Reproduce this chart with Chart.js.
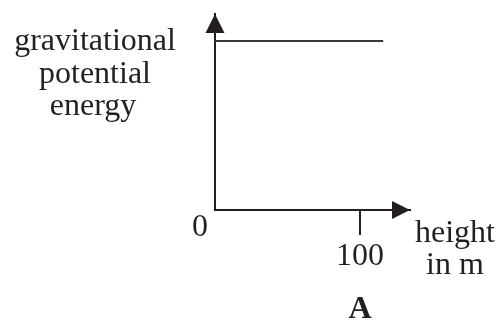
<!DOCTYPE html>
<html>
<head>
<meta charset="utf-8">
<script src="https://cdn.jsdelivr.net/npm/chart.js@4"></script>
<style>
  html, body { margin: 0; padding: 0; background: #fff; }
  canvas { display: block; }
</style>
</head>
<body>
<canvas id="gpeChart" width="503" height="326"></canvas>
<script>
// data
const heights = [0, 116];          // height in m
const energy = [1, 1];             // GPE stays constant
const xTicks = [100];
const xMax = 134.5;                // arrow tip
const yMax = 1.16;

const ink = '#231f20';
const serif = '"Liberation Serif", "DejaVu Serif", serif';

// === arrows and free text ===
const sketchPlugin = {
    id: 'sketch',
    afterDraw(chart) {
        const ctx = chart.ctx;
        const x = chart.scales.x, y = chart.scales.y;
        const x0 = x.getPixelForValue(0), y0 = y.getPixelForValue(0);
        const xEnd = x.getPixelForValue(xMax), yEnd = y.getPixelForValue(yMax);

        ctx.save();
        ctx.fillStyle = ink;
        // y arrow
        ctx.beginPath();
        ctx.moveTo(x0, yEnd);
        ctx.lineTo(x0 - 9.5, yEnd + 19);
        ctx.lineTo(x0 + 9.5, yEnd + 19);
        ctx.closePath();
        ctx.fill();
        // x arrow
        ctx.beginPath();
        ctx.moveTo(xEnd, y0);
        ctx.lineTo(xEnd - 18, y0 - 9);
        ctx.lineTo(xEnd - 18, y0 + 9);
        ctx.closePath();
        ctx.fill();

        ctx.font = '32px ' + serif;
        ctx.textAlign = 'center';
        ctx.textBaseline = 'middle';
        ctx.fillText('0', x0 - 15, y0 + 18);
        // tick labels
        xTicks.forEach(v => ctx.fillText(String(v), x.getPixelForValue(v), y0 + 47));

        ctx.fillText('gravitational', 95, 42);
        ctx.fillText('potential', 95, 75);
        ctx.fillText('energy', 93, 107);

        ctx.fillText('height', 455, 234);
        ctx.fillText('in m', 455, 266);

        ctx.font = 'bold 32px ' + serif;
        ctx.fillText('A', x.getPixelForValue(100), 310);
        ctx.restore();
    }
};

new Chart(document.getElementById('gpeChart'), {
    type: 'line',
    data: {
        datasets: [{
            data: heights.map((h, i) => ({ x: h, y: energy[i] })),
            borderColor: '#3a3a3a',
            borderWidth: 2,
            pointRadius: 0,
            fill: false
        }]
    },
    options: {
        responsive: false,
        animation: false,
        layout: { padding: { left: 215, right: 93, top: 14, bottom: 116 } },
        plugins: { legend: { display: false }, tooltip: { enabled: false } },
        scales: {
            x: {
                type: 'linear',
                min: 0,
                max: xMax,
                afterFit: s => { s.height = 0; },
                afterBuildTicks: s => { s.ticks = xTicks.map(v => ({ value: v })); },
                grid: { drawOnChartArea: false, tickLength: 25, color: ink, lineWidth: 2 },
                border: { display: true, color: ink, width: 2 },
                ticks: { display: false }
            },
            y: {
                type: 'linear',
                min: 0,
                max: yMax,
                afterFit: s => { s.width = 0; },
                grid: { display: false },
                border: { display: true, color: ink, width: 2 },
                ticks: { display: false }
            }
        }
    },
    plugins: [sketchPlugin]
});
</script>
</body>
</html>
